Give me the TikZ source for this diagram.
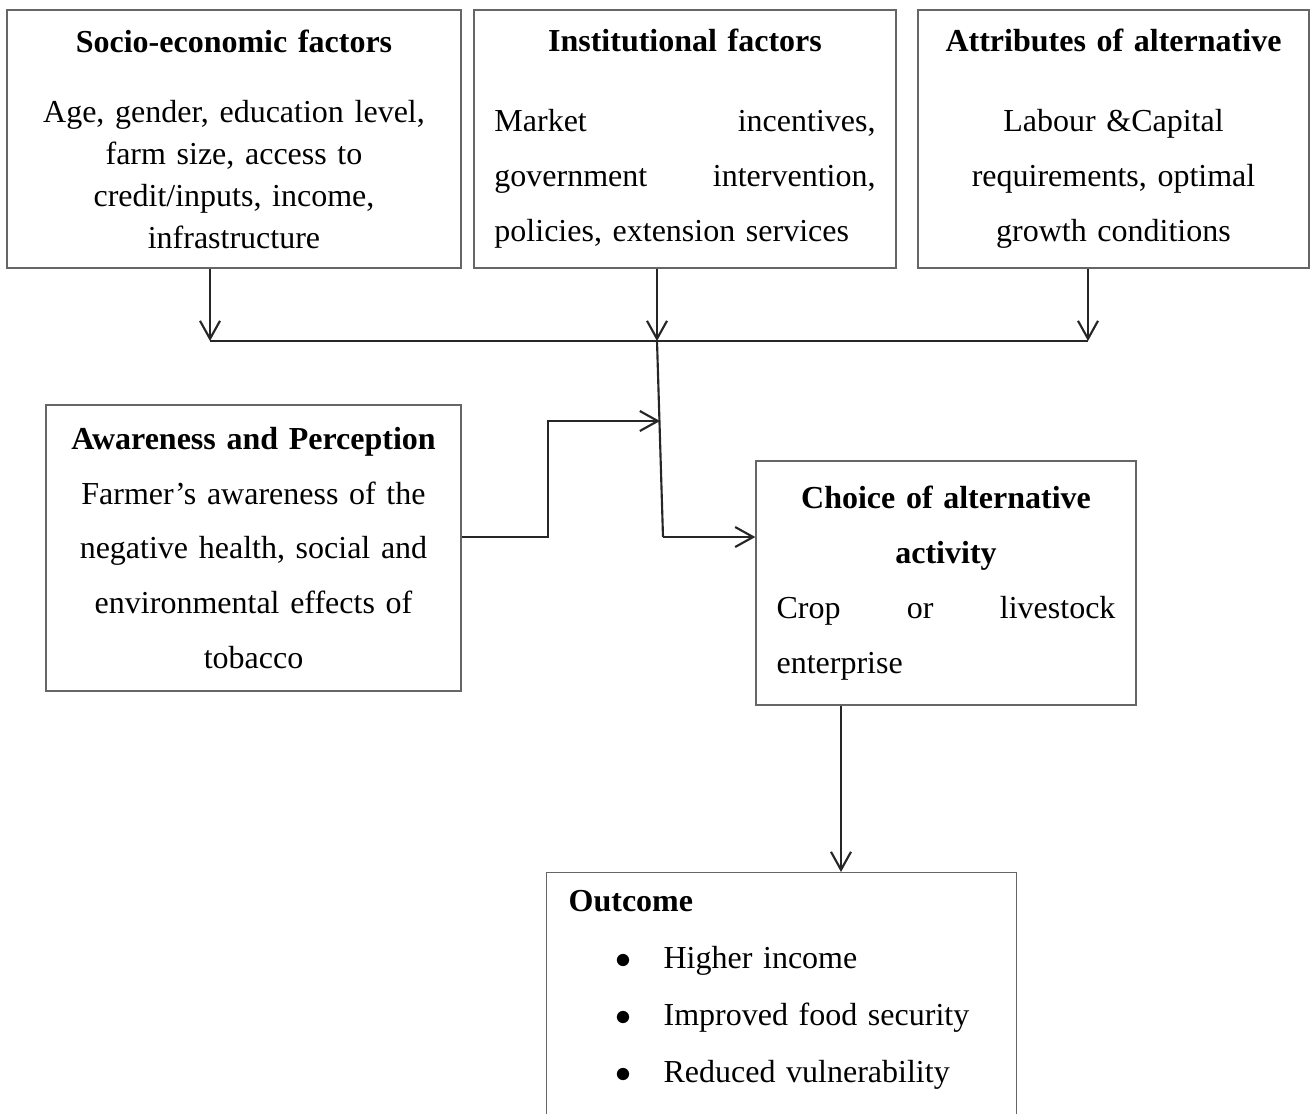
\documentclass[tikz,border=0pt]{standalone}
\usepackage{fontspec}
\setmainfont{Liberation Serif}
\usepackage{tikz}
\usetikzlibrary{arrows.meta,positioning,calc}
\tikzset{
  factor/.style={rectangle, draw=black!60, line width=0.5pt, align=center, inner xsep=7.6pt, inner ysep=4pt, font=\fontsize{12}{20.6}\selectfont},
  link/.style={-{Straight Barb[length=6.75pt,width=7.5pt]}, line width=0.8pt, draw=black!85},
  bus/.style={line width=0.8pt, draw=black!85},
}
\newcommand{\outbullet}{\makebox[35.6pt][l]{\hspace{17.5pt}$\bullet$}}
\begin{document}
\begin{tikzpicture}[x=0.375pt, y=-0.375pt]
  \useasboundingbox (0,0) rectangle (1314,1113);
  \node[factor, minimum width=170.25pt, minimum height=96.75pt, text width=155pt, font=\fontsize{12}{15.75}\selectfont] (socio) at (234,139) {\textbf{Socio-economic factors}\\[10.5pt] Age, gender, education level,\\ farm size, access to\\ credit/inputs, income,\\ infrastructure};
  \node[factor, minimum width=158.25pt, minimum height=96.75pt, text width=142.9pt] (inst) at (685,139) {\textbf{Institutional factors}\\[9.4pt] Market\hfill incentives,\\ government\hfill intervention,\\ policies, extension services\hfill\mbox{}};
  \node[factor, minimum width=146.6pt, minimum height=96.75pt, text width=131pt] (attr) at (1113.5,139) {\textbf{Attributes of alternative}\\[9.4pt] Labour \&Capital\\ requirements, optimal\\ growth conditions};
  \node[factor, minimum width=155.6pt, minimum height=107.25pt, text width=140pt] (aware) at (253.5,548) {\textbf{Awareness and Perception}\\ Farmer’s awareness of the\\ negative health, social and\\ environmental effects of\\ tobacco};
  \node[factor, minimum width=142.5pt, minimum height=91.5pt, text width=127.1pt] (choice) at (946,583) {\textbf{Choice of alternative}\\ \textbf{activity}\\ Crop\hfill or\hfill livestock\\ enterprise\hfill\mbox{}};
  \node[factor, anchor=north west, align=left, minimum width=176.25pt, text width=159.75pt, inner xsep=8.25pt, inner ysep=6.7pt, font=\fontsize{12}{21.4}\selectfont] (outcome) at (546,872) {\textbf{Outcome}\\ \outbullet Higher income\\ \outbullet Improved food security\\ \outbullet Reduced vulnerability\\ \mbox{}};
  \coordinate (busL) at (210,341); \coordinate (busM) at (657,341); \coordinate (busR) at (1088,341);
  \coordinate (drop) at (663,537); \coordinate (step) at (548,421); \coordinate (meet) at (660,421);
  \coordinate (down) at (841,0);
  \draw[link] (socio.south -| busL) -- (busL); \draw[link] (inst.south -| busM) -- (busM); \draw[link] (attr.south -| busR) -- (busR);
  \draw[bus] (busL) -- (busR); \draw[bus] (busM) -- (drop);
  \draw[link] (drop) -- (drop -| choice.west);
  \draw[link] (aware.east |- drop) -| (step) -- (meet);
  \draw[link] (choice.south -| down) -- (outcome.north -| down);
\end{tikzpicture}
\end{document}
